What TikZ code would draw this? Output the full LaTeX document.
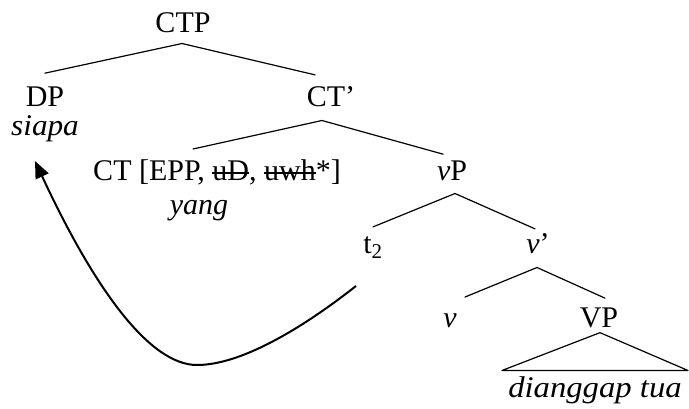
\documentclass[tikz,border=0pt]{standalone}
\usepackage{fontspec}
\setmainfont{Liberation Serif}
\newsavebox{\strkbox}
\newcommand{\strk}[1]{\sbox{\strkbox}{#1}\rlap{\raisebox{6.5pt}{\rule{\wd\strkbox}{1.2pt}}}\usebox{\strkbox}}
\usetikzlibrary{arrows.meta}
\begin{document}
\begin{tikzpicture}[x=1pt,y=-1pt,
  lbl/.style={inner sep=0pt,anchor=base,font=\fontsize{30}{36}\selectfont},
  branch/.style={line width=1.2pt,line cap=round},
  movearrow/.style={line width=2pt,-{Triangle[length=17pt,width=14pt]}}]
\useasboundingbox (0,0) rectangle (689,408);
% labels
\node[lbl] (ctp) at (183,32) {CTP};
\node[lbl] (dp) at (45,106) {DP};
\node[lbl] (siapa) at (45,135) {\scalebox{1.04}[1]{\textit{siapa}}};
\node[lbl] (ctbar) at (331,106) {CT’};
\node[lbl] (ct) at (217,180) {CT [EPP, \strk{uD}, \strk{uwh}*]};
\node[lbl] (yang) at (199,214) {\textit{yang}};
\node[lbl] (vp) at (452,180) {\textit{v}P};
\node[lbl] (t2) at (373,253) {t\textsubscript{2}};
\node[lbl] (vbar) at (538,253) {\textit{v}’};
\node[lbl] (v) at (450,327) {\textit{v}};
\node[lbl] (vpp) at (599,327) {VP};
\node[lbl] (dt) at (595,397) {\scalebox{1.09}[1]{\textit{dianggap tua}}};
% branches
\draw[branch] ([yshift=13pt]dp.north) -- ([yshift=-11pt,xshift=-1pt]ctp.south) -- ([xshift=-16pt,yshift=11pt]ctbar.north);
\draw[branch] ([xshift=-24pt,yshift=10pt]ct.north) -- ([xshift=-9pt,yshift=-14pt]ctbar.south) -- ([xshift=-9pt,yshift=6pt]vp.north);
\draw[branch] ([yshift=9pt]t2.north) -- ([xshift=3pt,yshift=-13pt]vp.south) -- ([xshift=-3pt,yshift=4pt]vbar.north);
\draw[branch] ([xshift=15pt,yshift=16pt]v.north) -- ([xshift=-1pt,yshift=-14pt]vbar.south) -- ([xshift=6pt,yshift=9pt]vpp.north);
\draw[branch,line join=round] ([xshift=1pt,yshift=-5pt]vpp.south) -- ([xshift=-93pt,yshift=5.5pt]dt.north) -- ([xshift=93pt,yshift=5.5pt]dt.north) -- cycle;
% movement arrow
\coordinate (bend) at (197,365);
\draw[movearrow] ([xshift=-17pt,yshift=-33pt]t2.base) .. controls (300,330) and (240,365) .. (bend) .. controls (150,365) and (95,290) .. ([xshift=-10pt,yshift=-26pt]siapa.base);
\end{tikzpicture}
\end{document}
